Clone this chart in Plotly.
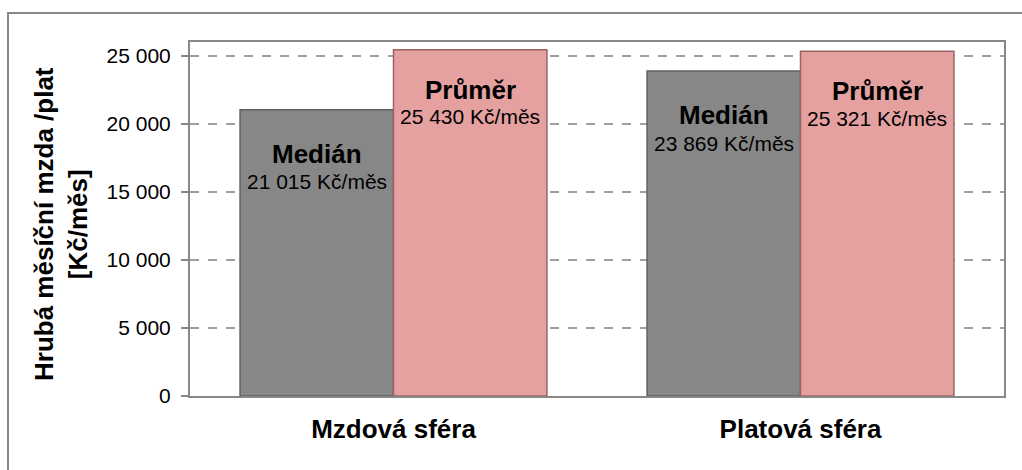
import plotly.graph_objects as go

categories = ["Mzdová sféra", "Platová sféra"]
median_values = [21015, 23869]
mean_values = [25430, 25321]
median_text = ["21 015 Kč/měs", "23 869 Kč/měs"]
mean_text = ["25 430 Kč/měs", "25 321 Kč/měs"]
tick_vals = [0, 5000, 10000, 15000, 20000, 25000]
tick_text = ["0", "5 000", "10 000", "15 000", "20 000", "25 000"]

W, H = 1022, 470
ML, MR, MT, MB = 190, 18, 42, 74
BARGAP = 0.246
plot_w = W - ML - MR
plot_h = H - MT - MB
cat_w = plot_w / len(categories)
bar_w = cat_w * (1 - BARGAP) / 2

FONT = "Liberation Sans, Arial, sans-serif"

fig = go.Figure()
fig.add_trace(go.Bar(
    x=categories, y=median_values, name="Medián",
    marker=dict(color="#878787", line=dict(color="#606060", width=1.5)),
    hoverinfo="skip",
))
fig.add_trace(go.Bar(
    x=categories, y=mean_values, name="Průměr",
    marker=dict(color="#E5A0A0", line=dict(color="#9a6464", width=1.5)),
    hoverinfo="skip",
))

annotations = []
for cat, v, t in zip(categories, median_values, median_text):
    annotations.append(dict(x=cat, y=v, xref="x", yref="y", xshift=-bar_w / 2, yshift=-44,
                            text="<b>Medián</b>", showarrow=False, yanchor="middle",
                            font=dict(size=26, color="#000", family=FONT)))
    annotations.append(dict(x=cat, y=v, xref="x", yref="y", xshift=-bar_w / 2, yshift=-72,
                            text=t, showarrow=False, yanchor="middle",
                            font=dict(size=21, color="#000", family=FONT)))
for cat, v, t in zip(categories, mean_values, mean_text):
    annotations.append(dict(x=cat, y=v, xref="x", yref="y", xshift=bar_w / 2, yshift=-40,
                            text="<b>Průměr</b>", showarrow=False, yanchor="middle",
                            font=dict(size=26, color="#000", family=FONT)))
    annotations.append(dict(x=cat, y=v, xref="x", yref="y", xshift=bar_w / 2, yshift=-67,
                            text=t, showarrow=False, yanchor="middle",
                            font=dict(size=21, color="#000", family=FONT)))

annotations.append(dict(
    x=(61 - ML) / plot_w, y=(H - MB - 224) / plot_h, xref="paper", yref="paper",
    text="<b>Hrubá měsíční mzda /plat<br>[Kč/měs]</b>", textangle=-90, showarrow=False,
    xanchor="center", yanchor="middle",
    font=dict(size=26, color="#000", family=FONT),
))

fig.update_layout(
    width=W, height=H,
    margin=dict(l=ML, r=MR, t=MT, b=MB),
    paper_bgcolor="white", plot_bgcolor="white",
    barmode="group", bargap=BARGAP, bargroupgap=0,
    showlegend=False,
    font=dict(family=FONT, color="#000"),
    annotations=annotations,
    shapes=[dict(type="rect", xref="paper", yref="paper",
                 x0=(8 - ML) / plot_w, x1=(1040 - ML) / plot_w,
                 y0=(H - MB - 490) / plot_h, y1=(H - MB - 13) / plot_h,
                 line=dict(color="#888888", width=2), fillcolor="rgba(0,0,0,0)",
                 layer="below")],
)
fig.update_xaxes(
    showline=True, linecolor="#888888", linewidth=2, mirror=True,
    ticks="", showgrid=False,
    tickfont=dict(size=26, family=FONT, color="#000"),
    ticklabelstandoff=9,
    tickvals=categories, ticktext=["<b>%s</b>" % c for c in categories],
)
fig.update_yaxes(
    range=[0, 26000], tickvals=tick_vals, ticktext=tick_text,
    showline=True, linecolor="#888888", linewidth=2, mirror=True,
    ticks="outside", ticklen=7, tickcolor="#888888", tickwidth=1.5,
    showgrid=True, gridcolor="#A0A0A0", griddash="dash", gridwidth=1.5,
    tickfont=dict(size=21, family=FONT, color="#000"),
    ticklabelstandoff=6, zeroline=False,
)

fig.write_html("out.html", config={"displayModeBar": False},
               post_script="document.body.style.margin='0';")
